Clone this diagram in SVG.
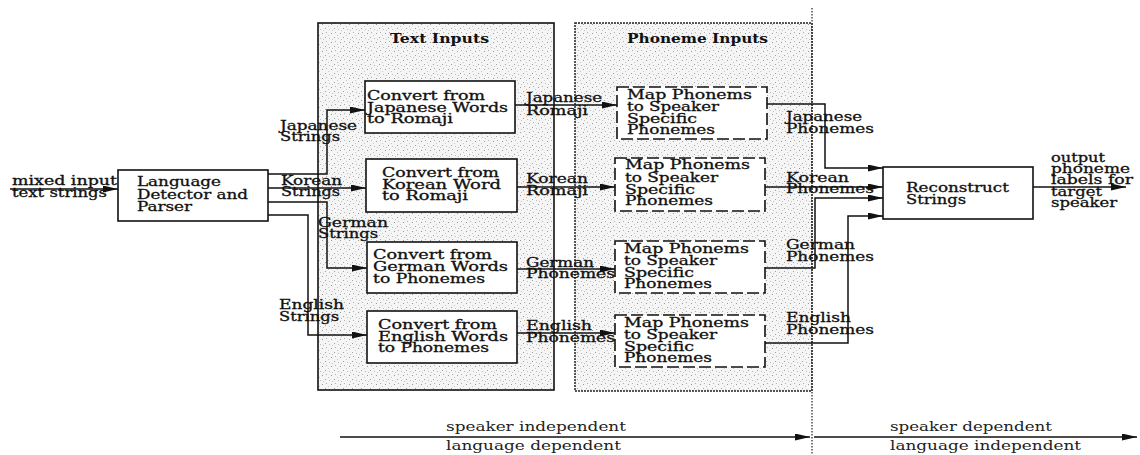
<svg xmlns="http://www.w3.org/2000/svg" width="1140" height="455" viewBox="0 0 1140 455">
  <defs>
    <marker id="arr" markerUnits="userSpaceOnUse" markerWidth="15" markerHeight="7" refX="15" refY="3.5" orient="auto">
      <path d="M0,0 L15,3.5 L0,7 z" fill="#111"/>
    </marker>
    <pattern id="stipple" width="9" height="9" patternUnits="userSpaceOnUse">
      <rect width="9" height="9" fill="#f5f5f5"/>
      <rect x="1" y="1" width="1" height="1" fill="#a0a0a0"/>
      <rect x="5" y="2" width="1" height="1" fill="#bcbcbc"/>
      <rect x="2" y="5" width="1" height="1" fill="#b0b0b0"/>
      <rect x="7" y="6" width="1" height="1" fill="#989898"/>
      <rect x="4" y="8" width="1" height="1" fill="#c6c6c6"/>
      <rect x="8" y="3" width="1" height="1" fill="#c2c2c2"/>
    </pattern>
    <style>
      .t { font-family: "DejaVu Serif", "Liberation Serif", serif; font-size: 12px; fill: #111; stroke: #111; stroke-width: 0.3; }
      .h { font-family: "DejaVu Serif", "Liberation Serif", serif; font-size: 12.5px; font-weight: bold; fill: #111; }
      .b { font-family: "DejaVu Serif", "Liberation Serif", serif; font-size: 12.5px; fill: #222; }
      .box { fill: #fff; stroke: #111; stroke-width: 1.6; }
      .dbox { fill: #fff; stroke: #111; stroke-width: 1.6; stroke-dasharray: 12 4; }
      .wire { fill: none; stroke: #111; stroke-width: 1.5; marker-end: url(#arr); }
    </style>
  </defs>

  <!-- background -->
  <rect width="1140" height="455" fill="#fff"/>

  <!-- shaded panels -->
  <g id="panel-text">
    <rect x="318" y="23" width="236" height="367" fill="url(#stipple)" stroke="#111" stroke-width="1.6"/>
    <text class="h" x="390" y="43" textLength="99" lengthAdjust="spacingAndGlyphs">Text Inputs</text>
  </g>
  <g id="panel-phoneme">
    <rect x="575" y="23" width="237" height="368" fill="url(#stipple)" stroke="#222" stroke-width="1.5" stroke-dasharray="2 1"/>
    <text class="h" x="627" y="43" textLength="141" lengthAdjust="spacingAndGlyphs">Phoneme Inputs</text>
  </g>

  <!-- divider between speaker independent and speaker dependent parts -->
  <path d="M812,8 V455" stroke="#333" stroke-width="1.3" stroke-dasharray="1.5 1.5" fill="none"/>

  <!-- connectors -->
  <g id="connectors">
    <path class="wire" d="M10,189 H118"/>
    <path class="wire" d="M268,174 H327 V110 H365"/>
    <path class="wire" d="M268,188 H366"/>
    <path class="wire" d="M268,202 H327 V268 H367"/>
    <path class="wire" d="M268,215 H308 V335 H367"/>

    <path class="wire" d="M515,105 H617"/>
    <path class="wire" d="M517,187 H615"/>
    <path class="wire" d="M517,269 H615"/>
    <path class="wire" d="M517,333 H615"/>

    <path class="wire" d="M767,104 H825 V168 H883"/>
    <path class="wire" d="M765,187 H883"/>
    <path class="wire" d="M765,268 H815 V198 H883"/>
    <path class="wire" d="M765,343 H848 V216 H883"/>

    <path class="wire" d="M1033,187 H1126"/>

    <path class="wire" d="M340,437 H810"/>
    <path class="wire" d="M814,437 H1137"/>

    <!-- connector labels -->
    <text class="t"><tspan x="12" y="185" textLength="105" lengthAdjust="spacingAndGlyphs">mixed input</tspan><tspan x="12" y="197" textLength="95" lengthAdjust="spacingAndGlyphs">text strings</tspan></text>

    <text class="t"><tspan x="280" y="130" textLength="77" lengthAdjust="spacingAndGlyphs">Japanese</tspan><tspan x="280" y="141" textLength="60" lengthAdjust="spacingAndGlyphs">Strings</tspan></text>
    <text class="t"><tspan x="281" y="185" textLength="61" lengthAdjust="spacingAndGlyphs">Korean</tspan><tspan x="281" y="196" textLength="59" lengthAdjust="spacingAndGlyphs">Strings</tspan></text>
    <text class="t"><tspan x="318" y="227" textLength="70" lengthAdjust="spacingAndGlyphs">German</tspan><tspan x="318" y="238" textLength="60" lengthAdjust="spacingAndGlyphs">Strings</tspan></text>
    <text class="t"><tspan x="279" y="309" textLength="65" lengthAdjust="spacingAndGlyphs">English</tspan><tspan x="279" y="321" textLength="60" lengthAdjust="spacingAndGlyphs">Strings</tspan></text>

    <text class="t"><tspan x="526" y="102" textLength="76" lengthAdjust="spacingAndGlyphs">Japanese</tspan><tspan x="526" y="115" textLength="62" lengthAdjust="spacingAndGlyphs">Romaji</tspan></text>
    <text class="t"><tspan x="526" y="183" textLength="62" lengthAdjust="spacingAndGlyphs">Korean</tspan><tspan x="526" y="195" textLength="62" lengthAdjust="spacingAndGlyphs">Romaji</tspan></text>
    <text class="t"><tspan x="526" y="267" textLength="68" lengthAdjust="spacingAndGlyphs">German</tspan><tspan x="526" y="278" textLength="89" lengthAdjust="spacingAndGlyphs">Phonemes</tspan></text>
    <text class="t"><tspan x="526" y="330" textLength="66" lengthAdjust="spacingAndGlyphs">English</tspan><tspan x="526" y="342" textLength="89" lengthAdjust="spacingAndGlyphs">Phonemes</tspan></text>

    <text class="t"><tspan x="786" y="121" textLength="76" lengthAdjust="spacingAndGlyphs">Japanese</tspan><tspan x="786" y="133" textLength="88" lengthAdjust="spacingAndGlyphs">Phonemes</tspan></text>
    <text class="t"><tspan x="786" y="182" textLength="63" lengthAdjust="spacingAndGlyphs">Korean</tspan><tspan x="786" y="193" textLength="88" lengthAdjust="spacingAndGlyphs">Phonemes</tspan></text>
    <text class="t"><tspan x="786" y="249" textLength="69" lengthAdjust="spacingAndGlyphs">German</tspan><tspan x="786" y="261" textLength="88" lengthAdjust="spacingAndGlyphs">Phonemes</tspan></text>
    <text class="t"><tspan x="786" y="322" textLength="65" lengthAdjust="spacingAndGlyphs">English</tspan><tspan x="786" y="334" textLength="88" lengthAdjust="spacingAndGlyphs">Phonemes</tspan></text>

    <text class="t"><tspan x="1051" y="162" textLength="54" lengthAdjust="spacingAndGlyphs">output</tspan><tspan x="1051" y="173" textLength="79" lengthAdjust="spacingAndGlyphs">phoneme</tspan><tspan x="1051" y="184" textLength="82" lengthAdjust="spacingAndGlyphs">labels for</tspan><tspan x="1051" y="196" textLength="51" lengthAdjust="spacingAndGlyphs">target</tspan><tspan x="1051" y="207" textLength="66" lengthAdjust="spacingAndGlyphs">speaker</tspan></text>

    <text class="b" x="446" y="431" textLength="180" lengthAdjust="spacingAndGlyphs">speaker independent</text>
    <text class="b" x="446" y="450" textLength="175" lengthAdjust="spacingAndGlyphs">language dependent</text>
    <text class="b" x="890" y="431" textLength="162" lengthAdjust="spacingAndGlyphs">speaker dependent</text>
    <text class="b" x="890" y="450" textLength="191" lengthAdjust="spacingAndGlyphs">language independent</text>
  </g>

  <!-- nodes -->
  <g id="detector">
    <rect class="box" x="118" y="170" width="150" height="51"/>
    <text class="t"><tspan x="137" y="186" textLength="84" lengthAdjust="spacingAndGlyphs">Language</tspan><tspan x="137" y="199" textLength="111" lengthAdjust="spacingAndGlyphs">Detector and</tspan><tspan x="137" y="211" textLength="55" lengthAdjust="spacingAndGlyphs">Parser</tspan></text>
  </g>

  <g id="convert-japanese">
    <rect class="box" x="365" y="81" width="150" height="52"/>
    <text class="t"><tspan x="367" y="100" textLength="118" lengthAdjust="spacingAndGlyphs">Convert from</tspan><tspan x="367" y="112" textLength="141" lengthAdjust="spacingAndGlyphs">Japanese Words</tspan><tspan x="367" y="123" textLength="86" lengthAdjust="spacingAndGlyphs">to Romaji</tspan></text>
  </g>
  <g id="convert-korean">
    <rect class="box" x="366" y="159" width="151" height="53"/>
    <text class="t"><tspan x="382" y="177" textLength="117" lengthAdjust="spacingAndGlyphs">Convert from</tspan><tspan x="382" y="189" textLength="119" lengthAdjust="spacingAndGlyphs">Korean Word</tspan><tspan x="382" y="200" textLength="86" lengthAdjust="spacingAndGlyphs">to Romaji</tspan></text>
  </g>
  <g id="convert-german">
    <rect class="box" x="367" y="242" width="150" height="51"/>
    <text class="t"><tspan x="373" y="259" textLength="119" lengthAdjust="spacingAndGlyphs">Convert from</tspan><tspan x="373" y="271" textLength="135" lengthAdjust="spacingAndGlyphs">German Words</tspan><tspan x="373" y="283" textLength="112" lengthAdjust="spacingAndGlyphs">to Phonemes</tspan></text>
  </g>
  <g id="convert-english">
    <rect class="box" x="367" y="311" width="150" height="52"/>
    <text class="t"><tspan x="378" y="329" textLength="119" lengthAdjust="spacingAndGlyphs">Convert from</tspan><tspan x="378" y="341" textLength="130" lengthAdjust="spacingAndGlyphs">English Words</tspan><tspan x="378" y="352" textLength="111" lengthAdjust="spacingAndGlyphs">to Phonemes</tspan></text>
  </g>

  <g id="map-japanese">
    <rect class="dbox" x="617" y="87" width="150" height="52"/>
    <text class="t"><tspan x="627" y="99" textLength="125" lengthAdjust="spacingAndGlyphs">Map Phonems</tspan><tspan x="627" y="111" textLength="92" lengthAdjust="spacingAndGlyphs">to Speaker</tspan><tspan x="627" y="123" textLength="70" lengthAdjust="spacingAndGlyphs">Specific</tspan><tspan x="627" y="134" textLength="88" lengthAdjust="spacingAndGlyphs">Phonemes</tspan></text>
  </g>
  <g id="map-korean">
    <rect class="dbox" x="615" y="158" width="150" height="53"/>
    <text class="t"><tspan x="625" y="169" textLength="125" lengthAdjust="spacingAndGlyphs">Map Phonems</tspan><tspan x="625" y="182" textLength="93" lengthAdjust="spacingAndGlyphs">to Speaker</tspan><tspan x="625" y="194" textLength="70" lengthAdjust="spacingAndGlyphs">Specific</tspan><tspan x="625" y="205" textLength="88" lengthAdjust="spacingAndGlyphs">Phonemes</tspan></text>
  </g>
  <g id="map-german">
    <rect class="dbox" x="615" y="241" width="150" height="52"/>
    <text class="t"><tspan x="624" y="253" textLength="125" lengthAdjust="spacingAndGlyphs">Map Phonems</tspan><tspan x="624" y="265" textLength="93" lengthAdjust="spacingAndGlyphs">to Speaker</tspan><tspan x="624" y="277" textLength="70" lengthAdjust="spacingAndGlyphs">Specific</tspan><tspan x="624" y="288" textLength="88" lengthAdjust="spacingAndGlyphs">Phonemes</tspan></text>
  </g>
  <g id="map-english">
    <rect class="dbox" x="615" y="315" width="150" height="52"/>
    <text class="t"><tspan x="624" y="327" textLength="125" lengthAdjust="spacingAndGlyphs">Map Phonems</tspan><tspan x="624" y="339" textLength="93" lengthAdjust="spacingAndGlyphs">to Speaker</tspan><tspan x="624" y="351" textLength="70" lengthAdjust="spacingAndGlyphs">Specific</tspan><tspan x="624" y="362" textLength="88" lengthAdjust="spacingAndGlyphs">Phonemes</tspan></text>
  </g>

  <g id="reconstruct">
    <rect class="box" x="883" y="167" width="150" height="52"/>
    <text class="t"><tspan x="906" y="192" textLength="103" lengthAdjust="spacingAndGlyphs">Reconstruct</tspan><tspan x="906" y="204" textLength="60" lengthAdjust="spacingAndGlyphs">Strings</tspan></text>
  </g>
</svg>
